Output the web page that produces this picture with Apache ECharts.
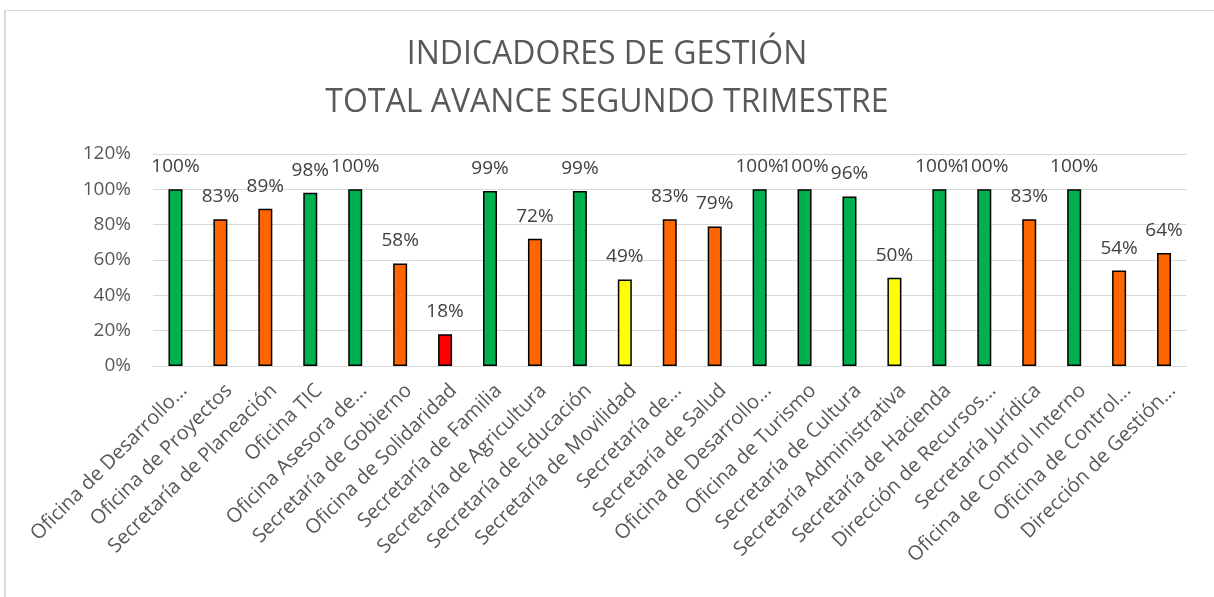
<!DOCTYPE html>
<html>
<head>
<meta charset="utf-8">
<script src="https://cdn.jsdelivr.net/npm/echarts@6/dist/echarts.min.js"></script>
<style>
  html, body { margin: 0; padding: 0; background: #fff; }
  #wrap { position: relative; width: 1214px; height: 597px; overflow: hidden; }
  #frame { position: absolute; left: 4px; top: 10px; width: 1240px; height: 620px;
    border-left: 2px solid #d9d9d9; border-top: 1px solid #d9d9d9; box-sizing: border-box; }
  #chart { position: absolute; left: 0; top: 0; width: 1214px; height: 597px; }
</style>
</head>
<body>
<div id="wrap">
  <div id="frame"></div>
  <div id="chart"></div>
</div>
<script>
  const categories = [
    'Oficina de Desarrollo...', 'Oficina de Proyectos', 'Secretaría de Planeación', 'Oficina TIC',
    'Oficina Asesora de...', 'Secretaría de Gobierno', 'Oficina de Solidaridad', 'Secretaría de Familia',
    'Secretaría de Agricultura', 'Secretaría de Educación', 'Secretaría de Movilidad', 'Secretaría de...',
    'Secretaría de Salud', 'Oficina de Desarrollo...', 'Oficina de Turismo', 'Secretaría de Cultura',
    'Secretaría Administrativa', 'Secretaría de Hacienda', 'Dirección de Recursos...', 'Secretaría Jurídica',
    'Oficina de Control Interno', 'Oficina de Control...', 'Dirección de Gestión...'
  ]
  // avance en %
  const avance = [100, 83, 89, 98, 100, 58, 18, 99, 72, 99, 49, 83, 79, 100, 100, 96, 50, 100, 100, 83, 100, 54, 64]
  const yTicks = [0, 20, 40, 60, 80, 100, 120]

  const fontFamily = '"Open Sans", sans-serif'

  // semáforo
  const colorFor = (v) => {
    if (v >= 90) return '#00B050'
    if (v > 50) return '#FF6600'
    if (v >= 40) return '#FFFF00'
    return '#FF0000'
  }

  const chart = echarts.init(document.getElementById('chart'))
  chart.setOption({
    animation: false,
    title: {
      text: 'INDICADORES DE GESTIÓN\nTOTAL AVANCE SEGUNDO TRIMESTRE',
      left: 'center',
      top: 26,
      textStyle: { fontFamily, fontSize: 32, fontWeight: 'normal', color: '#595959', lineHeight: 48 }
    },
    grid: { left: 153, right: 27.5, top: 154, bottom: 231 },
    xAxis: {
      type: 'category',
      data: categories,
      axisLine: { lineStyle: { color: '#d9d9d9', width: 1 } },
      axisTick: { show: false },
      axisLabel: {
        interval: 0, rotate: 45, fontFamily, fontSize: 20, color: '#595959',
        margin: 30, padding: [0, -12, 0, 0]
      }
    },
    yAxis: {
      type: 'value',
      min: yTicks[0],
      max: yTicks[yTicks.length - 1],
      interval: 20,
      axisLine: { show: false },
      axisTick: { show: false },
      splitLine: { lineStyle: { color: '#d9d9d9', width: 1 } },
      axisLabel: { fontFamily, fontSize: 19, color: '#595959', margin: 22, formatter: '{value}%' }
    },
    series: [{
      type: 'bar',
      barWidth: 14,
      data: avance.map((v) => ({
        value: v,
        itemStyle: { color: colorFor(v), borderColor: '#000', borderWidth: 1.5 }
      })),
      label: {
        show: true,
        position: 'top',
        distance: 13,
        fontFamily,
        fontSize: 19,
        color: '#404040',
        formatter: '{c}%'
      }
    }]
  })
</script>
</body>
</html>
